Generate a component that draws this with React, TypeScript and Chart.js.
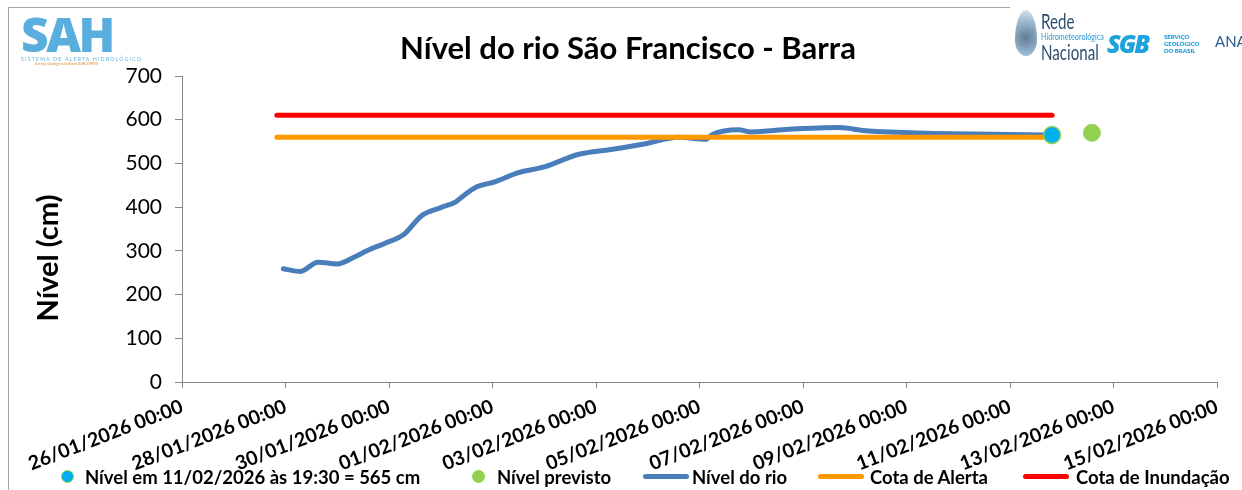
import React, { useEffect, useRef } from "react";
import { Chart, registerables } from "chart.js";

Chart.register(...registerables);

// ---------- data ----------
const xTickLabels = [
  "26/01/2026 00:00",
  "28/01/2026 00:00",
  "30/01/2026 00:00",
  "01/02/2026 00:00",
  "03/02/2026 00:00",
  "05/02/2026 00:00",
  "07/02/2026 00:00",
  "09/02/2026 00:00",
  "11/02/2026 00:00",
  "13/02/2026 00:00",
  "15/02/2026 00:00",
];

const yMin = 0;
const yMax = 700;
const yStep = 100;

const riverTimes = [
  "27/01/2026 23:00",
  "28/01/2026 07:00",
  "28/01/2026 15:00",
  "29/01/2026 00:00",
  "29/01/2026 08:00",
  "29/01/2026 14:00",
  "29/01/2026 22:00",
  "30/01/2026 07:00",
  "30/01/2026 15:00",
  "31/01/2026 00:00",
  "31/01/2026 07:00",
  "31/01/2026 11:00",
  "31/01/2026 17:00",
  "01/02/2026 01:00",
  "01/02/2026 12:00",
  "02/02/2026 00:00",
  "02/02/2026 16:00",
  "03/02/2026 07:00",
  "03/02/2026 23:00",
  "04/02/2026 14:00",
  "05/02/2026 03:00",
  "05/02/2026 06:00",
  "05/02/2026 18:00",
  "06/02/2026 00:00",
  "06/02/2026 17:30",
  "07/02/2026 17:00",
  "08/02/2026 05:00",
  "11/02/2026 19:30",
];
const riverLevels = [
  259, 253, 274, 270, 286, 301, 317, 338, 380, 399, 412, 428, 447, 458, 479,
  492, 521, 532, 545, 560, 555, 566, 577, 572, 578, 582, 575, 565,
];

const alertTimes = ["27/01/2026 20:00", "11/02/2026 19:30"];
const alertLevels = [560, 560];

const floodTimes = ["27/01/2026 20:00", "11/02/2026 19:30"];
const floodLevels = [610, 610];

const currentTimes = ["11/02/2026 19:30"];
const currentLevels = [565];

const forecastTimes = ["12/02/2026 14:00"];
const forecastLevels = [570];

const legendLabels = [
  "Nível em 11/02/2026 às 19:30 = 565 cm",
  "Nível previsto",
  "Nível do rio",
  "Cota de Alerta",
  "Cota de Inundação",
];

const titleText = "Nível do rio São Francisco - Barra";
const yTitleText = "Nível (cm)";

// ---------- helpers ----------
const parseDate = (s: string) => {
  const [d, t] = s.split(" ");
  const [dd, mm, yy] = d.split("/").map(Number);
  const [hh, mi] = t.split(":").map(Number);
  return Date.UTC(yy, mm - 1, dd, hh, mi);
};
const START = parseDate(xTickLabels[0]);
const DAY = 86400000;
const toDays = (s: string) => (parseDate(s) - START) / DAY;
const zip = (ts: string[], vs: number[]) =>
  ts.map((t, i) => ({ x: toDays(t), y: vs[i] }));

const COLORS = {
  river: "#4A7EBB",
  alert: "#FF9900",
  flood: "#FF0000",
  current: "#00B0F0",
  forecast: "#92D050",
  axis: "#868686",
};

const FONT = "Lato, 'Open Sans', sans-serif";

export default function App() {
  const ref = useRef<HTMLCanvasElement>(null);

  useEffect(() => {
    if (!ref.current) return;
    const chart = new Chart(ref.current, {
      type: "line",
      data: {
        datasets: [
          {
            label: legendLabels[0],
            data: zip(currentTimes, currentLevels),
            showLine: false,
            pointRadius: 8.5,
            pointBackgroundColor: COLORS.current,
            pointBorderColor: COLORS.forecast,
            pointBorderWidth: 1.5,
            order: 0,
          },
          {
            label: legendLabels[1],
            data: zip(forecastTimes, forecastLevels),
            showLine: false,
            pointRadius: 8.5,
            pointBackgroundColor: COLORS.forecast,
            pointBorderColor: COLORS.forecast,
            pointBorderWidth: 1,
            order: 1,
          },
          {
            label: legendLabels[2],
            data: zip(riverTimes, riverLevels),
            borderColor: COLORS.river,
            borderWidth: 5,
            pointRadius: 0,
            cubicInterpolationMode: "monotone",
            borderCapStyle: "round",
            borderJoinStyle: "round",
            order: 4,
          },
          {
            label: legendLabels[3],
            data: zip(alertTimes, alertLevels),
            borderColor: COLORS.alert,
            borderWidth: 5,
            pointRadius: 0,
            borderCapStyle: "round",
            order: 3,
          },
          {
            label: legendLabels[4],
            data: zip(floodTimes, floodLevels),
            borderColor: COLORS.flood,
            borderWidth: 5,
            pointRadius: 0,
            borderCapStyle: "round",
            order: 2,
          },
        ],
      },
      options: {
        animation: false,
        responsive: false,
        devicePixelRatio: 1,
        layout: { padding: { left: 10, right: 25, top: 76, bottom: 0 } },
        plugins: {
          legend: { display: false },
          tooltip: { enabled: false },
          title: { display: false },
        },
        scales: {
          x: {
            type: "linear",
            min: 0,
            max: toDays(xTickLabels[xTickLabels.length - 1]),
            afterBuildTicks: (s: any) => {
              s.ticks = xTickLabels.map((l) => ({ value: toDays(l) }));
            },
            ticks: {
              autoSkip: false,
              minRotation: 21,
              maxRotation: 21,
              padding: 7,
              color: "#000",
              font: { family: FONT, size: 19.5, weight: "bold" },
              callback: (_v: any, i: number) => xTickLabels[i],
            },
            grid: {
              drawOnChartArea: false,
              drawTicks: true,
              tickLength: 6,
              color: COLORS.axis,
            },
            border: { display: true, color: COLORS.axis, width: 1 },
            afterFit: (s: any) => {
              s.height = 108;
            },
          },
          y: {
            min: yMin,
            max: yMax,
            ticks: {
              stepSize: yStep,
              padding: 13,
              color: "#000",
              font: { family: FONT, size: 21 },
            },
            grid: {
              drawOnChartArea: false,
              drawTicks: true,
              tickLength: 7,
              color: COLORS.axis,
            },
            border: { display: true, color: COLORS.axis, width: 1 },
            afterFit: (s: any) => {
              s.width = 172;
            },
          },
        },
      },
    } as any);
    return () => chart.destroy();
  }, []);

  const legendItems = [
    { kind: "dot", fill: COLORS.current, stroke: COLORS.forecast, sx: 61, tx: 85 },
    { kind: "dot", fill: COLORS.forecast, stroke: COLORS.forecast, sx: 472, tx: 497 },
    { kind: "line", fill: COLORS.river, sx: 643, tx: 692 },
    { kind: "line", fill: COLORS.alert, sx: 818, tx: 870 },
    { kind: "line", fill: COLORS.flood, sx: 1023, tx: 1076 },
  ];

  return (
    <div
      style={{
        position: "absolute",
        left: 0,
        top: 0,
        width: 1242,
        height: 490,
        overflow: "hidden",
        background: "#fff",
        fontFamily: FONT,
      }}
    >
      {/* outer frame */}
      <div
        style={{
          position: "absolute",
          left: 8,
          top: 7,
          width: 1260,
          height: 520,
          border: "1px solid #A6A6A6",
          boxSizing: "border-box",
        }}
      />
      <canvas
        ref={ref}
        width={1242}
        height={490}
        style={{ position: "absolute", left: 0, top: 0, width: 1242, height: 490 }}
      />
      {/* title */}
      <div
        style={{
          position: "absolute",
          left: 628,
          top: 47,
          transform: "translate(-50%, -50%)",
          fontSize: 31,
          fontWeight: 700,
          whiteSpace: "nowrap",
          color: "#000",
        }}
      >
        {titleText}
      </div>
      {/* y title */}
      <div
        style={{
          position: "absolute",
          left: 46,
          top: 258,
          transform: "translate(-50%, -50%) rotate(-90deg)",
          fontSize: 29,
          fontWeight: 700,
          whiteSpace: "nowrap",
          color: "#000",
        }}
      >
        {yTitleText}
      </div>
      {/* SAH logo */}
      <div style={{ position: "absolute", left: 21, top: 14, color: "#5AAEDD" }}>
        <div
          style={{
            fontFamily: "'Open Sans', sans-serif",
            fontSize: 48,
            fontWeight: 800,
            letterSpacing: -2.5,
            lineHeight: "40px",
          }}
        >
          SAH
        </div>
        <div style={{ fontSize: 5, letterSpacing: 1.3, marginTop: 2, whiteSpace: "nowrap" }}>
          SISTEMA DE ALERTA HIDROLÓGICO
        </div>
        <div style={{ fontSize: 3.5, color: "#E08A2A", marginLeft: 14, whiteSpace: "nowrap" }}>
          Serviço Geológico do Brasil (SGB/CPRM)
        </div>
      </div>
      {/* right logos */}
      <div
        style={{
          position: "absolute",
          left: 1010,
          top: 0,
          width: 232,
          height: 62,
          background: "#fff",
        }}
      >
        <div
          style={{
            position: "absolute",
            left: 5,
            top: 10,
            width: 22,
            height: 46,
            borderRadius: "50% 50% 50% 50% / 65% 65% 35% 35%",
            background:
              "radial-gradient(circle at 50% 60%, #3a5a78 0%, #7fa8c8 55%, #dbe8f2 100%)",
            opacity: 0.8,
          }}
        />
        <div
          style={{
            position: "absolute",
            left: 31,
            top: 10,
            color: "#2E4E6E",
            lineHeight: 1,
            transform: "scaleX(0.72)",
            transformOrigin: "left top",
            whiteSpace: "nowrap",
          }}
        >
          <div style={{ fontSize: 21 }}>Rede</div>
          <div style={{ fontSize: 10, color: "#2A9BD6" }}>Hidrometeorológica</div>
          <div style={{ fontSize: 21 }}>Nacional</div>
        </div>
        <div
          style={{
            position: "absolute",
            left: 97,
            top: 29,
            fontSize: 25,
            fontWeight: 900,
            fontStyle: "italic",
            color: "#1FA2DC",
            letterSpacing: -2,
            fontFamily: "'Open Sans', sans-serif",
            lineHeight: "28px",
          }}
        >
          SGB
        </div>
        <div
          style={{
            position: "absolute",
            left: 154,
            top: 33,
            fontSize: 6,
            fontWeight: 800,
            color: "#1FA2DC",
            lineHeight: "7px",
          }}
        >
          <div>SERVIÇO</div>
          <div>GEOLÓGICO</div>
          <div>DO BRASIL</div>
        </div>
        <div
          style={{
            position: "absolute",
            left: 205,
            top: 34,
            fontSize: 15,
            color: "#2A5D8A",
            lineHeight: 1,
          }}
        >
          ANA
        </div>
      </div>
      {/* legend */}
      {legendItems.map((it, i) => (
        <React.Fragment key={i}>
          {it.kind === "dot" ? (
            <div
              style={{
                position: "absolute",
                left: it.sx,
                top: 470,
                width: 13,
                height: 13,
                borderRadius: "50%",
                background: it.fill,
                border: `1.5px solid ${it.stroke}`,
                boxSizing: "border-box",
              }}
            />
          ) : (
            <div
              style={{
                position: "absolute",
                left: it.sx,
                top: 474,
                width: 46,
                height: 5,
                borderRadius: 3,
                background: it.fill,
              }}
            />
          )}
          <div
            style={{
              position: "absolute",
              left: it.tx,
              top: 465,
              fontSize: 18.5,
              fontWeight: 700,
              color: "#000",
              whiteSpace: "nowrap",
              lineHeight: "24px",
            }}
          >
            {legendLabels[i]}
          </div>
        </React.Fragment>
      ))}
    </div>
  );
}
